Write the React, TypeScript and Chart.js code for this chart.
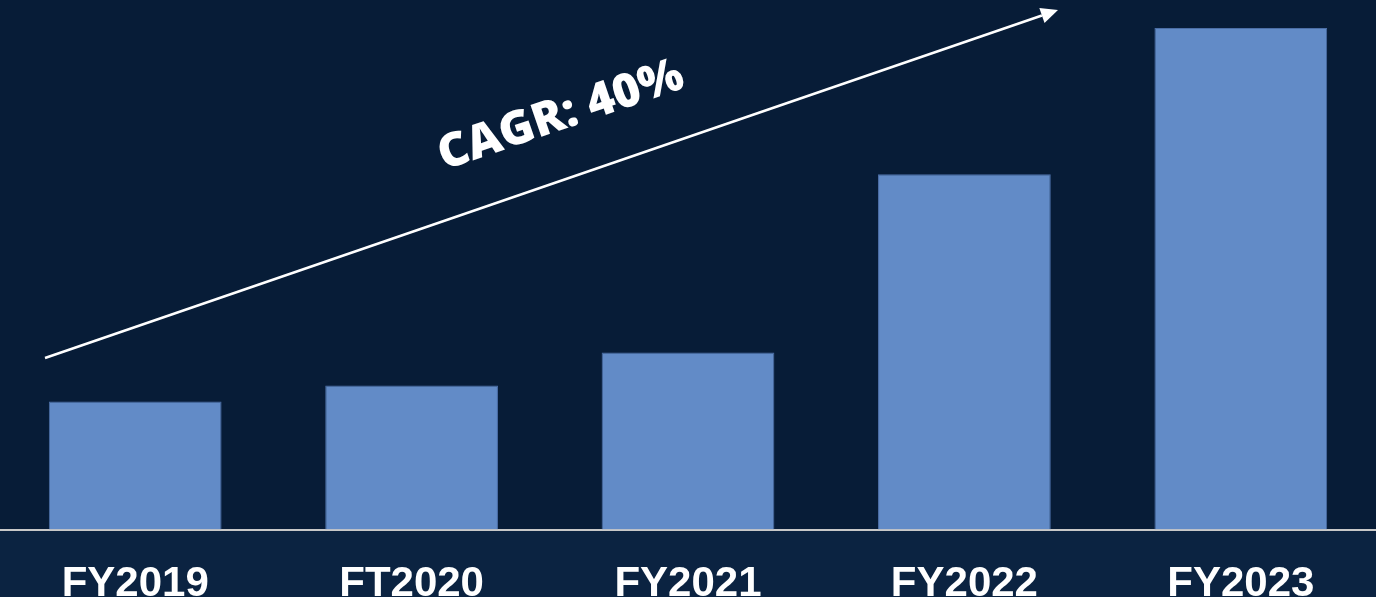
import React, { useEffect, useRef } from "react";
import { Chart, registerables } from "chart.js";

Chart.register(...registerables);

const categories = ["FY2019", "FT2020", "FY2021", "FY2022", "FY2023"];
const revenue = [128, 144, 177, 355, 501];
const yMax = 529;
const cagrLabel = "CAGR: 40%";

const BG_TOP = "#071c37";
const BG_BOTTOM = "#0b2341";
const BAR = "#628bc7";
const BAR_BORDER = "#4b6ea6";

const backgroundPlugin = {
  id: "bgBands",
  beforeDraw(chart: any) {
    const { ctx, width, height, chartArea } = chart;
    ctx.save();
    ctx.fillStyle = BG_TOP;
    ctx.fillRect(0, 0, width, height);
    ctx.fillStyle = BG_BOTTOM;
    ctx.fillRect(0, chartArea.bottom, width, height - chartArea.bottom);
    ctx.restore();
  },
};

const arrowPlugin = {
  id: "cagrArrow",
  afterDatasetsDraw(chart: any) {
    const { ctx } = chart;
    const x0 = 48, y0 = 358, x1 = 1061, y1 = 10;
    ctx.save();
    ctx.strokeStyle = "#ffffff";
    ctx.fillStyle = "#ffffff";
    ctx.lineWidth = 2.5;
    const ang = Math.atan2(y1 - y0, x1 - x0);
    const headLen = 17;
    const headW = 8;
    const bx = x1 - headLen * Math.cos(ang);
    const by = y1 - headLen * Math.sin(ang);
    ctx.beginPath();
    ctx.moveTo(x0, y0);
    ctx.lineTo(bx, by);
    ctx.stroke();
    ctx.beginPath();
    ctx.moveTo(x1, y1);
    ctx.lineTo(bx + headW * Math.sin(ang), by - headW * Math.cos(ang));
    ctx.lineTo(bx - headW * Math.sin(ang), by + headW * Math.cos(ang));
    ctx.closePath();
    ctx.fill();
    ctx.translate(564, 116);
    ctx.rotate(ang);
    ctx.font = "800 47px 'Open Sans'";
    ctx.textAlign = "center";
    ctx.textBaseline = "middle";
    ctx.fillText(cagrLabel, 0, 0);
    ctx.restore();
  },
};

export default function App() {
  const ref = useRef<HTMLCanvasElement | null>(null);
  useEffect(() => {
    document.body.style.margin = "0";
    document.body.style.overflow = "hidden";
    const chart = new Chart(ref.current!, {
      type: "bar",
      data: {
        labels: categories,
        datasets: [
          {
            data: revenue,
            backgroundColor: BAR,
            borderColor: BAR_BORDER,
            borderWidth: 1,
            barPercentage: 0.625,
            categoryPercentage: 1,
          },
        ],
      },
      options: {
        animation: false,
        responsive: false,
        maintainAspectRatio: false,
        layout: { padding: { top: 0, left: 0, right: 0, bottom: -30 } },
        plugins: { legend: { display: false }, tooltip: { enabled: false } },
        scales: {
          x: {
            grid: { display: false, drawTicks: false },
            border: { display: true, color: "#c8c8c8", width: 2 },
            ticks: {
              color: "#ffffff",
              font: { family: "'Liberation Sans', Arial", size: 42, weight: "bold" },
              padding: 30,
              maxRotation: 0,
            },
          },
          y: {
            display: false,
            min: 0,
            max: yMax,
          },
        },
      },
      plugins: [backgroundPlugin, arrowPlugin],
    });
    return () => chart.destroy();
  }, []);
  return (
    <div style={{ position: "relative", width: 1376, height: 597, overflow: "hidden", background: BG_BOTTOM }}>
      <canvas
        ref={ref}
        width={1382}
        height={610}
        style={{ position: "absolute", left: -3, top: 0, width: 1382, height: 610 }}
      />
    </div>
  );
}
